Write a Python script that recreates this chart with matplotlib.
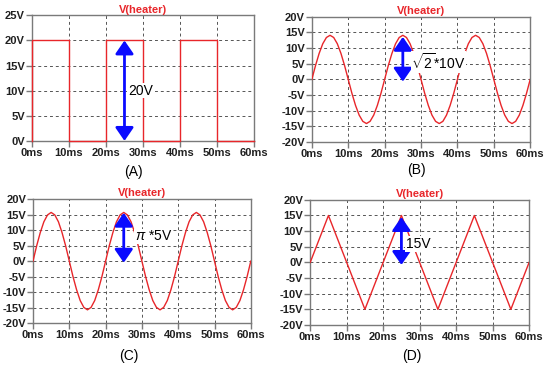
import matplotlib
matplotlib.use('Agg')
import matplotlib.pyplot as plt

plt.rcParams['font.family'] = ['Liberation Sans', 'DejaVu Sans']
plt.rcParams['mathtext.fontset'] = 'custom'
plt.rcParams['mathtext.rm'] = 'Liberation Sans'
plt.rcParams['mathtext.it'] = 'Liberation Sans:italic'

# time axis (ms)
t_ms = list(range(0, 61))
x_ticks = [0, 10, 20, 30, 40, 50, 60]
x_labels = ['0ms', '10ms', '20ms', '30ms', '40ms', '50ms', '60ms']

# (A) square wave
sq_t = [0, 0, 10, 10, 20, 20, 30, 30, 40, 40, 50, 50, 60]
sq_v = [0, 20, 20, 0, 0, 20, 20, 0, 0, 20, 20, 0, 0]
a_ticks = [0, 5, 10, 15, 20, 25]

# (B) sine, peak ~14.1V, read every 1 ms
sine_b = [0, 4.4, 8.3, 11.4, 13.4, 14.1, 13.4, 11.4, 8.3, 4.4,
          0, -4.4, -8.3, -11.4, -13.4, -14.1, -13.4, -11.4, -8.3, -4.4,
          0, 4.4, 8.3, 11.4, 13.4, 14.1, 13.4, 11.4, 8.3, 4.4,
          0, -4.4, -8.3, -11.4, -13.4, -14.1, -13.4, -11.4, -8.3, -4.4,
          0, 4.4, 8.3, 11.4, 13.4, 14.1, 13.4, 11.4, 8.3, 4.4,
          0, -4.4, -8.3, -11.4, -13.4, -14.1, -13.4, -11.4, -8.3, -4.4, 0]

# (C) sine, peak ~15.7V, read every 1 ms
sine_c = [0, 4.9, 9.2, 12.7, 14.9, 15.7, 14.9, 12.7, 9.2, 4.9,
          0, -4.9, -9.2, -12.7, -14.9, -15.7, -14.9, -12.7, -9.2, -4.9,
          0, 4.9, 9.2, 12.7, 14.9, 15.7, 14.9, 12.7, 9.2, 4.9,
          0, -4.9, -9.2, -12.7, -14.9, -15.7, -14.9, -12.7, -9.2, -4.9,
          0, 4.9, 9.2, 12.7, 14.9, 15.7, 14.9, 12.7, 9.2, 4.9,
          0, -4.9, -9.2, -12.7, -14.9, -15.7, -14.9, -12.7, -9.2, -4.9, 0]

# (D) triangle wave
tri_t = [0, 5, 15, 25, 35, 45, 55, 60]
tri_v = [0, 15, -15, 15, -15, 15, -15, 0]

bcd_ticks = [-20, -15, -10, -5, 0, 5, 10, 15, 20]

RED = '#e8262a'
BLUE = '#0a0aff'
FRAME = '#7a7a7a'

fig = plt.figure(figsize=(5.5, 3.66), dpi=100)


def setup(rect, yticks, ylim):
    ax = fig.add_axes(rect)
    ax.set_xlim(0, 60)
    ax.set_ylim(*ylim)
    ax.set_xticks(x_ticks)
    ax.set_xticklabels(x_labels)
    ax.set_yticks(yticks)
    ax.set_yticklabels(['%dV' % v for v in yticks])
    ax.grid(True, color='#555555', linestyle=(0, (3, 3)), linewidth=0.7)
    for s in ax.spines.values():
        s.set_color(FRAME)
        s.set_linewidth(1.0)
    ax.tick_params(direction='out', length=4, width=1, color=FRAME,
                   labelsize=8, pad=1, labelcolor='#202020')
    for lab in ax.get_xticklabels() + ax.get_yticklabels():
        lab.set_fontweight('bold')
    ax.set_title('V(heater)', color=RED, fontsize=8, fontweight='bold', pad=2)
    return ax


def arrow(ax, x, y0, y1):
    ax.annotate('', xy=(x, y1), xytext=(x, y0),
                arrowprops=dict(arrowstyle='<|-|>,head_length=0.8,head_width=0.55',
                                color=BLUE, lw=2, shrinkA=0, shrinkB=0),
                zorder=5)


def label(ax, x, y, s):
    ax.text(x, y, s, fontsize=10, ha='left', va='center', zorder=6,
            bbox=dict(facecolor='white', edgecolor='none', pad=0.5))


# (A)
ax = setup([0.058, 0.615, 0.404, 0.343], a_ticks, (0, 25))
ax.plot(sq_t, sq_v, color=RED, lw=1, clip_on=False, zorder=3)
arrow(ax, 25, 0, 20)
label(ax, 26, 10, '20V')
fig.text(0.242, 0.530, '(A)', fontsize=10, ha='center', va='center')

# (B)
ax = setup([0.567, 0.612, 0.397, 0.342], bcd_ticks, (-20, 20))
ax.plot(t_ms, sine_b, color=RED, lw=1, zorder=3)
arrow(ax, 25, -0.7, 13.6)
label(ax, 27.3, 5.6, r'$\sqrt{2}$*10V')
fig.text(0.757, 0.535, '(B)', fontsize=10, ha='center', va='center')

# (C)
ax = setup([0.060, 0.117, 0.396, 0.339], bcd_ticks, (-20, 20))
ax.plot(t_ms, sine_c, color=RED, lw=1, zorder=3)
arrow(ax, 25, -0.5, 15.6)
label(ax, 28, 8, r'$\pi$ *5V')
fig.text(0.235, 0.027, '(C)', fontsize=10, ha='center', va='center')

# (D)
ax = setup([0.564, 0.112, 0.398, 0.342], bcd_ticks, (-20, 20))
ax.plot(tri_t, tri_v, color=RED, lw=1, zorder=3)
arrow(ax, 25, -0.8, 14.5)
label(ax, 26.3, 5.9, '15V')
fig.text(0.749, 0.027, '(D)', fontsize=10, ha='center', va='center')

fig.savefig('out.png', dpi=100)
